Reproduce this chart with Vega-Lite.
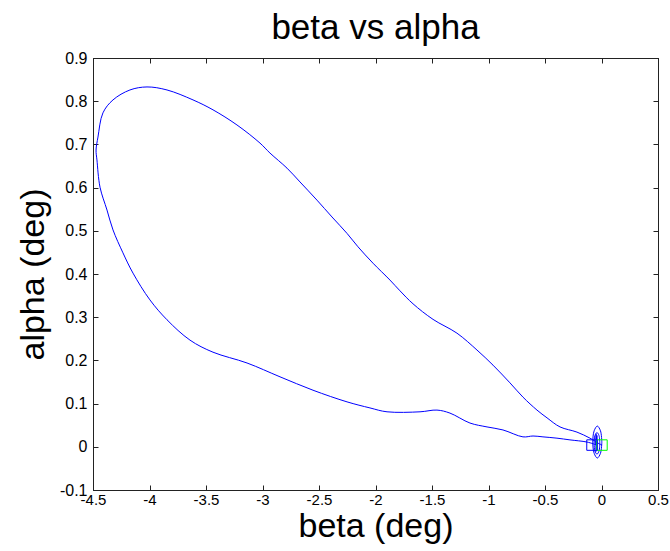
{
  "$schema": "https://vega.github.io/schema/vega-lite/v6.json",
  "width": 565,
  "height": 432,
  "autosize": {"type": "none"},
  "padding": {"left": 93, "top": 58, "right": 12, "bottom": 61},
  "background": "white",
  "config": {
    "font": "Liberation Sans",
    "view": {"stroke": "#222222", "strokeWidth": 1}
  },
  "title": {
    "text": "beta vs alpha",
    "font": "Liberation Sans",
    "fontSize": 35,
    "fontWeight": "normal",
    "color": "black",
    "anchor": "middle",
    "frame": "group",
    "baseline": "alphabetic",
    "offset": 18,
    "dy": 42
  },
  "datasets": {
    "path": [
      {"s": 1, "o": 1, "b": 0.004, "a": 0.005},
      {"s": 1, "o": 2, "b": -0.013, "a": 0.006},
      {"s": 1, "o": 3, "b": -0.102, "a": 0.020},
      {"s": 1, "o": 4, "b": -0.217, "a": 0.034},
      {"s": 1, "o": 5, "b": -0.367, "a": 0.046},
      {"s": 1, "o": 6, "b": -0.482, "a": 0.067},
      {"s": 1, "o": 7, "b": -0.571, "a": 0.085},
      {"s": 1, "o": 8, "b": -0.695, "a": 0.115},
      {"s": 1, "o": 9, "b": -0.810, "a": 0.148},
      {"s": 1, "o": 10, "b": -0.960, "a": 0.189},
      {"s": 1, "o": 11, "b": -1.102, "a": 0.224},
      {"s": 1, "o": 12, "b": -1.279, "a": 0.263},
      {"s": 1, "o": 13, "b": -1.491, "a": 0.295},
      {"s": 1, "o": 14, "b": -1.668, "a": 0.331},
      {"s": 1, "o": 15, "b": -1.783, "a": 0.361},
      {"s": 1, "o": 16, "b": -1.872, "a": 0.386},
      {"s": 1, "o": 17, "b": -2.022, "a": 0.425},
      {"s": 1, "o": 18, "b": -2.155, "a": 0.463},
      {"s": 1, "o": 19, "b": -2.252, "a": 0.494},
      {"s": 1, "o": 20, "b": -2.385, "a": 0.532},
      {"s": 1, "o": 21, "b": -2.518, "a": 0.571},
      {"s": 1, "o": 22, "b": -2.668, "a": 0.613},
      {"s": 1, "o": 23, "b": -2.783, "a": 0.645},
      {"s": 1, "o": 24, "b": -2.934, "a": 0.680},
      {"s": 1, "o": 25, "b": -3.022, "a": 0.703},
      {"s": 1, "o": 26, "b": -3.226, "a": 0.745},
      {"s": 1, "o": 27, "b": -3.438, "a": 0.780},
      {"s": 1, "o": 28, "b": -3.615, "a": 0.803},
      {"s": 1, "o": 29, "b": -3.845, "a": 0.826},
      {"s": 1, "o": 30, "b": -4.022, "a": 0.833},
      {"s": 1, "o": 31, "b": -4.173, "a": 0.826},
      {"s": 1, "o": 32, "b": -4.323, "a": 0.803},
      {"s": 1, "o": 33, "b": -4.412, "a": 0.773},
      {"s": 1, "o": 34, "b": -4.456, "a": 0.717},
      {"s": 1, "o": 35, "b": -4.473, "a": 0.687},
      {"s": 1, "o": 36, "b": -4.465, "a": 0.664},
      {"s": 1, "o": 37, "b": -4.438, "a": 0.601},
      {"s": 1, "o": 38, "b": -4.376, "a": 0.548},
      {"s": 1, "o": 39, "b": -4.323, "a": 0.502},
      {"s": 1, "o": 40, "b": -4.235, "a": 0.449},
      {"s": 1, "o": 41, "b": -4.146, "a": 0.402},
      {"s": 1, "o": 42, "b": -3.996, "a": 0.340},
      {"s": 1, "o": 43, "b": -3.845, "a": 0.294},
      {"s": 1, "o": 44, "b": -3.642, "a": 0.247},
      {"s": 1, "o": 45, "b": -3.438, "a": 0.219},
      {"s": 1, "o": 46, "b": -3.137, "a": 0.194},
      {"s": 1, "o": 47, "b": -2.845, "a": 0.162},
      {"s": 1, "o": 48, "b": -2.553, "a": 0.131},
      {"s": 1, "o": 49, "b": -2.252, "a": 0.104},
      {"s": 1, "o": 50, "b": -2.049, "a": 0.090},
      {"s": 1, "o": 51, "b": -1.898, "a": 0.081},
      {"s": 1, "o": 52, "b": -1.606, "a": 0.081},
      {"s": 1, "o": 53, "b": -1.456, "a": 0.085},
      {"s": 1, "o": 54, "b": -1.341, "a": 0.078},
      {"s": 1, "o": 55, "b": -1.164, "a": 0.055},
      {"s": 1, "o": 56, "b": -1.013, "a": 0.046},
      {"s": 1, "o": 57, "b": -0.872, "a": 0.039},
      {"s": 1, "o": 58, "b": -0.695, "a": 0.023},
      {"s": 1, "o": 59, "b": -0.606, "a": 0.025},
      {"s": 1, "o": 60, "b": -0.518, "a": 0.023},
      {"s": 1, "o": 61, "b": -0.394, "a": 0.020},
      {"s": 1, "o": 62, "b": -0.279, "a": 0.016},
      {"s": 1, "o": 63, "b": -0.128, "a": 0.011},
      {"s": 1, "o": 64, "b": -0.040, "a": 0.004},
      {"s": 2, "o": 1, "b": 0.003, "a": 0.011},
      {"s": 2, "o": 2, "b": -0.009, "a": 0.037},
      {"s": 2, "o": 3, "b": -0.037, "a": 0.048},
      {"s": 2, "o": 4, "b": -0.065, "a": 0.037},
      {"s": 2, "o": 5, "b": -0.077, "a": 0.011},
      {"s": 2, "o": 6, "b": -0.065, "a": -0.015},
      {"s": 2, "o": 7, "b": -0.037, "a": -0.026},
      {"s": 2, "o": 8, "b": -0.009, "a": -0.015},
      {"s": 2, "o": 9, "b": 0.003, "a": 0.011},
      {"s": 3, "o": 1, "b": -0.015, "a": 0.008},
      {"s": 3, "o": 2, "b": -0.022, "a": 0.026},
      {"s": 3, "o": 3, "b": -0.040, "a": 0.033},
      {"s": 3, "o": 4, "b": -0.058, "a": 0.026},
      {"s": 3, "o": 5, "b": -0.065, "a": 0.008},
      {"s": 3, "o": 6, "b": -0.058, "a": -0.010},
      {"s": 3, "o": 7, "b": -0.040, "a": -0.017},
      {"s": 3, "o": 8, "b": -0.022, "a": -0.010},
      {"s": 3, "o": 9, "b": -0.015, "a": 0.008},
      {"s": 4, "o": 1, "b": -0.050, "a": -0.012},
      {"s": 4, "o": 2, "b": -0.048, "a": 0.030},
      {"s": 4, "o": 3, "b": -0.042, "a": -0.008},
      {"s": 4, "o": 4, "b": -0.040, "a": 0.026},
      {"s": 4, "o": 5, "b": -0.055, "a": 0.004}
    ],
    "markers": [
      {"m": "start", "b": 0.004, "a": 0.004},
      {"m": "end", "b": -0.084, "a": 0.004}
    ]
  },
  "layer": [
    {
      "data": {"name": "path"},
      "mark": {"type": "line", "color": "#0000ff", "strokeWidth": 1, "interpolate": "catmull-rom"},
      "encoding": {
        "x": {
          "field": "b",
          "type": "quantitative",
          "scale": {"domain": [-4.5, 0.5], "nice": false, "zero": false},
          "axis": {
            "orient": "bottom",
            "values": [-4.5, -4, -3.5, -3, -2.5, -2, -1.5, -1, -0.5, 0, 0.5],
            "labelExpr": "'' + datum.value",
            "grid": false,
            "title": "beta (deg)",
            "titleFont": "Liberation Sans",
            "titleFontSize": 34,
            "titleFontWeight": "normal",
            "titleColor": "black",
            "titleX": 282.5,
            "titleY": 46,
            "titleAlign": "center",
            "titleBaseline": "alphabetic",
            "labelFont": "Liberation Sans",
            "labelFontSize": 15,
            "labelColor": "black",
            "labelFlush": false,
            "labelOverlap": false,
            "labelPadding": 7,
            "tickSize": -5,
            "tickColor": "#222222",
            "domainColor": "#222222"
          }
        },
        "y": {
          "field": "a",
          "type": "quantitative",
          "scale": {"domain": [-0.1, 0.9], "nice": false, "zero": false},
          "axis": {
            "orient": "left",
            "values": [-0.1, 0, 0.1, 0.2, 0.3, 0.4, 0.5, 0.6, 0.7, 0.8, 0.9],
            "labelExpr": "'' + datum.value",
            "grid": false,
            "title": "alpha (deg)",
            "titleFont": "Liberation Sans",
            "titleFontSize": 34,
            "titleFontWeight": "normal",
            "titleColor": "black",
            "titleAngle": -90,
            "titleX": -50,
            "titleY": 216,
            "titleAlign": "center",
            "titleBaseline": "alphabetic",
            "labelFont": "Liberation Sans",
            "labelFontSize": 16,
            "labelColor": "black",
            "labelFlush": false,
            "labelOverlap": false,
            "labelPadding": 11,
            "tickSize": -5,
            "tickColor": "#222222",
            "domainColor": "#222222"
          }
        },
        "detail": {"field": "s", "type": "nominal"},
        "order": {"field": "o", "type": "quantitative"}
      }
    },
    {
      "data": {"name": "markers"},
      "mark": {"type": "point", "shape": "square", "filled": false, "size": 110, "strokeWidth": 1, "opacity": 1},
      "encoding": {
        "x": {
          "field": "b",
          "type": "quantitative",
          "scale": {"domain": [-4.5, 0.5], "nice": false, "zero": false},
          "axis": {
            "orient": "top",
            "values": [-4.5, -4, -3.5, -3, -2.5, -2, -1.5, -1, -0.5, 0, 0.5],
            "labels": false,
            "title": null,
            "grid": false,
            "tickSize": -5,
            "tickColor": "#222222",
            "domainColor": "#222222"
          }
        },
        "y": {
          "field": "a",
          "type": "quantitative",
          "scale": {"domain": [-0.1, 0.9], "nice": false, "zero": false},
          "axis": {
            "orient": "right",
            "values": [-0.1, 0, 0.1, 0.2, 0.3, 0.4, 0.5, 0.6, 0.7, 0.8, 0.9],
            "labels": false,
            "title": null,
            "grid": false,
            "tickSize": -5,
            "tickColor": "#222222",
            "domainColor": "#222222"
          }
        },
        "color": {
          "field": "m",
          "type": "nominal",
          "scale": {"domain": ["start", "end"], "range": ["#00ff00", "#0000ff"]},
          "legend": null
        }
      }
    }
  ],
  "resolve": {"axis": {"x": "independent", "y": "independent"}}
}
